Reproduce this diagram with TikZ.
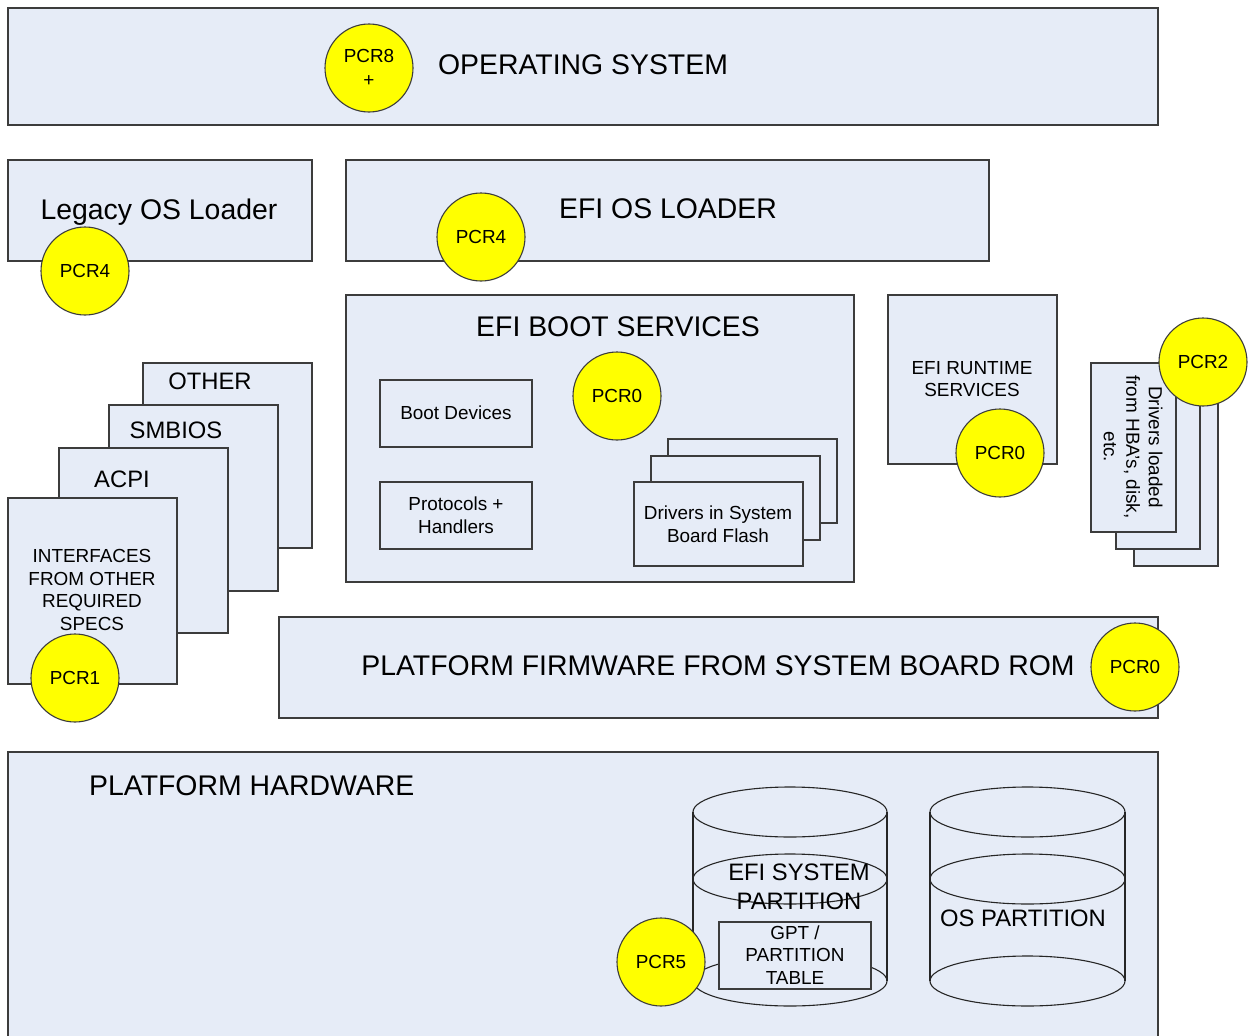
\documentclass[tikz,border=0pt]{standalone}
\usepackage{fontspec}
\setmainfont{Liberation Sans}
\definecolor{boxfill}{RGB}{230,236,247}
\definecolor{edge}{RGB}{60,60,60}
\definecolor{pcryellow}{RGB}{255,255,0}
\newcommand{\bigf}{\fontsize{28.4}{34}\selectfont}
\newcommand{\midf}{\fontsize{23.8}{29}\selectfont}
\newcommand{\smallf}{\fontsize{18.9}{22.5}\selectfont}
\tikzset{
  panel/.style={draw=edge, fill=boxfill, line width=1.3pt, rectangle, inner sep=0pt, outer sep=0pt, anchor=north west},
  pcr/.style={draw=edge, fill=pcryellow, line width=1.1pt, circle, minimum size=88pt, inner sep=0pt, align=center, font=\smallf},
  bigtext/.style={inner sep=0pt, font=\bigf, align=center},
  midtext/.style={inner sep=0pt, font=\midf, align=center},
  smalltext/.style={inner sep=0pt, font=\smallf, align=center},
  cylline/.style={draw=black!85, line width=1.1pt},
}
\begin{document}
\begin{tikzpicture}[x=1pt,y=-1pt]
\useasboundingbox (0,0) rectangle (1251,1036);
\fill[white] (0,0) rectangle (1251,1036);

% Operating system
\node[panel, minimum width=1150pt, minimum height=117pt] (os) at (8,8) {};
\node[pcr] (p8) at (369,68) {PCR8\\[1pt]+};
\node[bigtext] (tos) at (583,65) {OPERATING SYSTEM};

% Loaders
\node[panel, minimum width=304pt, minimum height=101pt] (legacy) at (8,160) {};
\node[bigtext] (tlegacy) at (159,212) {Legacy OS Loader};
\node[pcr] (p4a) at (85,271) {PCR4};
\node[panel, minimum width=643pt, minimum height=101pt] (efios) at (346,160) {};
\node[bigtext] (tefios) at (668,209) {EFI OS LOADER};
\node[pcr] (p4b) at (481,237) {PCR4};

% EFI boot services
\node[panel, minimum width=508pt, minimum height=287pt] (boot) at (346,295) {};
\node[bigtext] (tboot) at (618,327) {EFI BOOT SERVICES};
\node[panel, minimum width=152pt, minimum height=67pt] (bootdev) at (380,380) {};
\node[smalltext] (tbootdev) at (456,413) {Boot Devices};
\node[panel, minimum width=152pt, minimum height=67pt] (prot) at (380,482) {};
\node[smalltext] (tprot) at (456,515) {Protocols +\\Handlers};
\node[pcr] (p0a) at (617,396) {PCR0};
\node[panel, minimum width=169pt, minimum height=84pt] (drv3) at (668,439) {};
\node[panel, minimum width=169pt, minimum height=84pt] (drv2) at (651,456) {};
\node[panel, minimum width=169pt, minimum height=84pt] (drv1) at (634,482) {};
\node[smalltext] (tdrv) at (718,524) {Drivers in System\\Board Flash};

% EFI runtime services
\node[panel, minimum width=169pt, minimum height=169pt] (rt) at (888,295) {};
\node[smalltext] (trt) at (972,379) {EFI RUNTIME\\SERVICES};
\node[pcr] (p0b) at (1000,453) {PCR0};

% HBA drivers stack
\node[panel, minimum width=84pt, minimum height=169pt] (hba3) at (1134,397) {};
\node[panel, minimum width=84pt, minimum height=169pt] (hba2) at (1116,380) {};
\node[panel, minimum width=85pt, minimum height=169pt] (hba1) at (1091,363) {};
\node[smalltext, rotate=-90] (thba) at (1133,447) {Drivers loaded\\from HBA’s, disk,\\etc.};
\node[pcr] (p2) at (1203,362) {PCR2};

% Left stack
\node[panel, minimum width=169pt, minimum height=185pt] (other) at (143,363) {};
\node[midtext] (tother) at (210,381) {OTHER};
\node[panel, minimum width=169pt, minimum height=186pt] (smbios) at (109,405) {};
\node[midtext] (tsmbios) at (176,430) {SMBIOS};
\node[panel, minimum width=169pt, minimum height=185pt] (acpi) at (59,448) {};
\node[midtext] (tacpi) at (122,479) {ACPI};
\node[panel, minimum width=169pt, minimum height=186pt] (intf) at (8,498) {};
\node[smalltext] (tintf) at (92,590) {INTERFACES\\FROM OTHER\\REQUIRED\\SPECS};
\node[pcr] (p1) at (75,678) {PCR1};

% Platform firmware
\node[panel, minimum width=879pt, minimum height=101pt] (fw) at (279,617) {};
\node[bigtext] (tfw) at (718,666) {PLATFORM FIRMWARE FROM SYSTEM BOARD ROM};
\node[pcr] (p0c) at (1135,667) {PCR0};

% Platform hardware
\node[panel, minimum width=1150pt, minimum height=300pt] (hw) at (8,752) {};
\node[bigtext, anchor=west] (thw) at (89,786) {PLATFORM HARDWARE};

% Cylinder 1: EFI system partition
\draw[cylline] (693,812) -- (693,981);
\draw[cylline] (887,812) -- (887,981);
\draw[cylline] (790,812) ellipse [x radius=97pt, y radius=25pt];
\draw[cylline] (790,879) ellipse [x radius=97pt, y radius=25pt];
\draw[cylline] (790,981) ellipse [x radius=97pt, y radius=25pt];
\node[midtext] (tesp) at (799,887) {EFI SYSTEM\\PARTITION};
\node[panel, minimum width=152pt, minimum height=67pt] (gpt) at (719,922) {};
\node[smalltext] (tgpt) at (795,955) {GPT /\\PARTITION\\TABLE};
\node[pcr] (p5) at (661,962) {PCR5};

% Cylinder 2: OS partition
\draw[cylline] (930,812) -- (930,981);
\draw[cylline] (1125,812) -- (1125,981);
\draw[cylline] (1027.5,812) ellipse [x radius=97.5pt, y radius=25pt];
\draw[cylline] (1027.5,879) ellipse [x radius=97.5pt, y radius=25pt];
\draw[cylline] (1027.5,981) ellipse [x radius=97.5pt, y radius=25pt];
\node[midtext] (tosp) at (1023,918) {OS PARTITION};
\end{tikzpicture}
\end{document}
